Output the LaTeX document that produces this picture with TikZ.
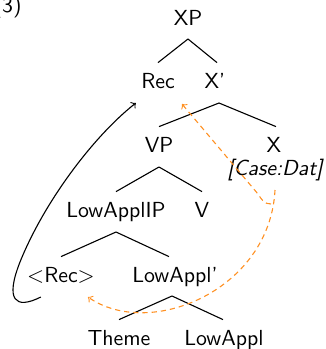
\documentclass[tikz,border=0pt]{standalone}
\usetikzlibrary{arrows}
\definecolor{arrorange}{RGB}{255,145,35}
\begin{document}
\begin{tikzpicture}[x=0.5pt,y=-0.5pt,
  every node/.style={font=\sffamily\fontsize{10.9}{12}\selectfont},
  lab/.style={anchor=base,inner sep=0pt,text height=7.5pt,text depth=0pt},
  branch/.style={line width=0.55pt},
  move/.style={->,line width=0.55pt},
  agree/.style={->,line width=0.55pt,draw=arrorange,dash pattern=on 2.6pt off 2pt}]
\useasboundingbox (0,0) rectangle (326,349);
\node[anchor=base east,inner sep=0pt] (num) at (22,12.5) {(3)};
\node[lab] (XP) at (188,25) {XP};
\node[lab] (Rec) at (158,88) {Rec};
\node[lab] (Xb) at (215,88) {X'};
\node[lab] (VP) at (159,152) {VP};
\node[lab] (X) at (274,152) {X};
\node[lab,font=\sffamily\itshape\fontsize{10.9}{12}\selectfont] (case) at (275,175) {[Case:Dat]};
\node[lab] (LAP) at (116,217) {LowApplIP};
\node[lab] (V) at (202,217) {V};
\node[lab] (Rec2) at (61,282) {$<$Rec$>$};
\node[lab] (LAb) at (175,282) {LowAppl'};
\node[lab] (Theme) at (119,345) {Theme};
\node[lab] (LA) at (224,345) {LowAppl};
% branches
\draw[branch] ([yshift=-7pt]XP.base) -- ([yshift=5pt]Rec.north);
\draw[branch] ([yshift=-7pt]XP.base) -- ([xshift=1pt,yshift=5pt]Xb.north);
\draw[branch] ([xshift=2pt,yshift=-7.5pt]Xb.base) -- ([yshift=5pt]VP.north);
\draw[branch] ([xshift=2pt,yshift=-7.5pt]Xb.base) -- ([xshift=1pt,yshift=5pt]X.north);
\draw[branch] ([yshift=-7.5pt]VP.base) -- ([yshift=5pt]LAP.north);
\draw[branch] ([yshift=-7.5pt]VP.base) -- ([yshift=5pt]V.north);
\draw[branch] ([yshift=-7.5pt]LAP.base) -- ([yshift=5pt]Rec2.north);
\draw[branch] ([yshift=-7.5pt]LAP.base) -- ([xshift=-3pt,yshift=5pt]LAb.north);
\draw[branch] ([xshift=-1.5pt,yshift=-7pt]LAb.base) -- ([yshift=5pt]Theme.north);
\draw[branch] ([xshift=-1.5pt,yshift=-7pt]LAb.base) -- ([xshift=-0.5pt,yshift=5pt]LA.north);
% movement arrow
\draw[move] ([xshift=7pt,yshift=-7.5pt]Rec2.base west)
  .. controls (15,310) and (5,300) .. (20,262)
  .. controls (45,200) and (95,135) .. ([xshift=-2.5pt,yshift=-7.5pt]Rec.base west);
% agree arrows
\draw[agree] ([xshift=-2pt,yshift=-14.5pt]case.base)
  .. controls (264,204) and (262,200) .. (258,194)
  -- ([xshift=12pt,yshift=-8pt]Rec.base);
\draw[agree] ([xshift=0pt,yshift=-7.5pt]case.base)
  .. controls (270,290) and (150,340) .. ([xshift=13.5pt,yshift=-7.5pt]Rec2.base);
\end{tikzpicture}
\end{document}
